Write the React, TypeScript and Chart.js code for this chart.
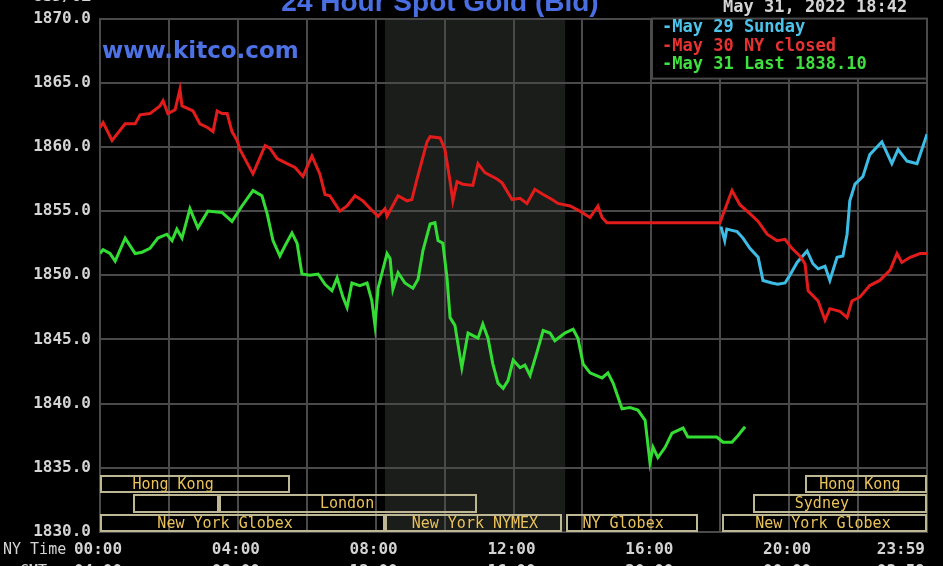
import { useEffect, useRef } from "react";
import { Chart, registerables } from "chart.js";

Chart.register(...registerables);

// ---- axis ----
const X_MIN = 0;
const X_MAX = 24;
const Y_MIN = 1830;
const Y_MAX = 1870;
const xLabelHours = [0, 4, 8, 12, 16, 20, 24];
const nyTimeLabels = ["00:00", "04:00", "08:00", "12:00", "16:00", "20:00", "23:59"];
const gmtTimeLabels = ["04:00", "08:00", "12:00", "16:00", "20:00", "00:00", "03:59"];

// ---- May 30 (NY closed) ----
const may30Hours = [0, 0.09, 0.35, 0.73, 1.02, 1.16, 1.45, 1.74, 1.83, 1.97, 2.18, 2.32, 2.38, 2.7, 2.9, 3.13, 3.28, 3.4, 3.54, 3.69, 3.83, 3.98, 4.06, 4.44, 4.79, 4.93, 5.14, 5.43, 5.66, 5.89, 6.15, 6.38, 6.53, 6.67, 6.96, 7.17, 7.4, 7.63, 7.84, 8.07, 8.27, 8.33, 8.65, 8.91, 9.05, 9.2, 9.34, 9.49, 9.58, 9.87, 10.01, 10.16, 10.24, 10.36, 10.53, 10.82, 10.97, 11.17, 11.52, 11.67, 11.96, 12.19, 12.39, 12.62, 12.86, 13.12, 13.29, 13.64, 13.93, 14.22, 14.45, 14.57, 14.71, 16, 17.99, 18.34, 18.57, 18.86, 19.1, 19.36, 19.65, 19.88, 20.08, 20.31, 20.46, 20.55, 20.84, 21.04, 21.18, 21.47, 21.68, 21.82, 22.05, 22.34, 22.63, 22.93, 23.13, 23.27, 23.51, 23.8, 24];
const may30Values = [1861.5, 1861.9, 1860.5, 1861.8, 1861.8, 1862.5, 1862.6, 1863.2, 1863.6, 1862.6, 1862.9, 1864.5, 1863.2, 1862.8, 1861.8, 1861.5, 1861.2, 1862.8, 1862.6, 1862.6, 1861.2, 1860.5, 1859.8, 1857.9, 1860.1, 1859.9, 1859.1, 1858.7, 1858.4, 1857.7, 1859.3, 1857.9, 1856.3, 1856.2, 1855.0, 1855.4, 1856.2, 1855.8, 1855.2, 1854.6, 1855.2, 1854.6, 1856.2, 1855.8, 1855.9, 1857.5, 1858.9, 1860.4, 1860.8, 1860.7, 1859.8, 1857.3, 1855.8, 1857.3, 1857.1, 1857.0, 1858.7, 1858.0, 1857.5, 1857.2, 1855.9, 1856.0, 1855.6, 1856.7, 1856.3, 1855.9, 1855.6, 1855.4, 1855.0, 1854.5, 1855.4, 1854.5, 1854.1, 1854.1, 1854.1, 1856.6, 1855.5, 1854.8, 1854.2, 1853.2, 1852.7, 1852.8, 1852.1, 1851.5, 1850.9, 1848.8, 1848.0, 1846.5, 1847.4, 1847.2, 1846.7, 1848.0, 1848.3, 1849.2, 1849.6, 1850.4, 1851.7, 1851.0, 1851.4, 1851.7, 1851.7];

// ---- May 31 (Last 1838.10) ----
const may31Hours = [0, 0.09, 0.29, 0.44, 0.73, 1.02, 1.22, 1.45, 1.68, 1.94, 2.09, 2.23, 2.38, 2.61, 2.84, 3.13, 3.54, 3.83, 4.12, 4.44, 4.7, 4.85, 5.02, 5.22, 5.37, 5.57, 5.72, 5.86, 6.09, 6.33, 6.53, 6.73, 6.88, 7.05, 7.17, 7.31, 7.54, 7.75, 7.89, 7.98, 8.07, 8.33, 8.42, 8.5, 8.65, 8.85, 9.08, 9.23, 9.37, 9.58, 9.72, 9.81, 9.95, 10.07, 10.16, 10.3, 10.5, 10.68, 10.97, 11.11, 11.26, 11.4, 11.55, 11.7, 11.84, 11.99, 12.19, 12.33, 12.48, 12.68, 12.86, 13.06, 13.2, 13.49, 13.73, 13.87, 14.02, 14.22, 14.57, 14.74, 14.89, 15.15, 15.38, 15.61, 15.82, 15.96, 16.05, 16.19, 16.4, 16.6, 16.92, 17.06, 17.9, 18.08, 18.34, 18.51, 18.72];
const may31Values = [1851.7, 1852.0, 1851.7, 1851.1, 1852.9, 1851.7, 1851.8, 1852.1, 1852.9, 1853.2, 1852.7, 1853.6, 1852.9, 1855.2, 1853.7, 1855.0, 1854.9, 1854.2, 1855.4, 1856.6, 1856.2, 1854.8, 1852.7, 1851.5, 1852.3, 1853.3, 1852.5, 1850.1, 1850.0, 1850.1, 1849.3, 1848.8, 1849.8, 1848.3, 1847.5, 1849.4, 1849.2, 1849.4, 1848.0, 1846.1, 1849.0, 1851.7, 1851.3, 1848.9, 1850.2, 1849.4, 1849.0, 1849.7, 1851.9, 1854.0, 1854.1, 1852.7, 1852.5, 1849.8, 1846.7, 1846.1, 1842.8, 1845.5, 1845.1, 1846.2, 1845.1, 1843.1, 1841.6, 1841.2, 1841.8, 1843.4, 1842.8, 1843.0, 1842.2, 1844.0, 1845.7, 1845.5, 1844.9, 1845.5, 1845.8, 1845.1, 1843.1, 1842.4, 1842.0, 1842.4, 1841.6, 1839.6, 1839.7, 1839.5, 1838.7, 1835.4, 1836.6, 1835.8, 1836.6, 1837.7, 1838.1, 1837.4, 1837.4, 1837.0, 1837.0, 1837.5, 1838.2];

// ---- May 29 (Sunday) ----
const may29Hours = [18.02, 18.13, 18.19, 18.34, 18.49, 18.66, 18.86, 19.1, 19.24, 19.5, 19.67, 19.88, 20.02, 20.23, 20.52, 20.69, 20.84, 21.04, 21.18, 21.39, 21.56, 21.68, 21.76, 21.91, 22.14, 22.34, 22.69, 22.98, 23.16, 23.42, 23.71, 23.85, 24];
const may29Values = [1853.8, 1852.7, 1853.6, 1853.5, 1853.4, 1852.9, 1852.1, 1851.4, 1849.6, 1849.4, 1849.3, 1849.4, 1850.0, 1851.0, 1851.9, 1850.9, 1850.5, 1850.7, 1849.6, 1851.4, 1851.5, 1853.2, 1855.8, 1857.1, 1857.7, 1859.4, 1860.4, 1858.7, 1859.8, 1858.9, 1858.7, 1859.8, 1861.0];

// ---- trading sessions (hours, NY time) ----
const sessionNames = ["Hong Kong", "", "London", "New York Globex", "New York NYMEX", "NY Globex", "New York Globex", "Sydney", "Hong Kong"];
const sessionStart = [0, 0.96, 3.45, 0, 8.27, 13.53, 18.05, 18.95, 20.46];
const sessionEnd = [5.5, 3.45, 10.95, 8.27, 13.42, 17.35, 24, 24, 24];
const sessionRow = [0, 1, 1, 2, 2, 2, 2, 1, 0];
const sessionLabelAt = [2.12, 0, 7.17, 3.63, 10.88, 15.18, 20.98, 20.95, 22.05];
const nymexShadeStart = 8.27;
const nymexShadeEnd = 13.5;

// ---- texts ----
const legendLabels = ["-May 29 Sunday", "-May 30 NY closed", "-May 31 Last 1838.10"];
const timestampText = "May 31, 2022 18:42";
const titleText = "24 Hour Spot Gold (Bid)";
const siteText = "www.kitco.com";
const unitText = "USD/OZ";

// ---- styles / positions (not data) ----
const C_RED = "#e21b1b";
const C_GREEN = "#33dd33";
const C_CYAN = "#3dbde6";
const GRID = "#4a4a4a";
const LABEL = "#d4d4d4";
const MONO = "'DejaVu Sans Mono', monospace";
const rowTopVal = [1834.45, 1832.98, 1831.42];
const rowBotVal = [1833.05, 1831.5, 1830.0];

const pts = (xs: number[], ys: number[]) => xs.map((x, i) => ({ x, y: ys[i] }));

const decor = {
  id: "decor",
  beforeDraw(chart: any) {
    const { ctx, chartArea, scales } = chart;
    const x = scales.x;
    ctx.save();
    ctx.fillStyle = "#1b1d1b";
    const l = x.getPixelForValue(nymexShadeStart);
    const r = x.getPixelForValue(nymexShadeEnd);
    ctx.fillRect(l, chartArea.top, r - l, chartArea.bottom - chartArea.top);
    ctx.restore();
  },
  afterDraw(chart: any) {
    const { ctx, chartArea, scales } = chart;
    const x = scales.x;
    const y = scales.y;
    ctx.save();

    // session boxes
    ctx.lineWidth = 2;
    for (let i = 0; i < sessionNames.length; i++) {
      const l = Math.round(x.getPixelForValue(sessionStart[i]));
      const r = Math.round(x.getPixelForValue(sessionEnd[i]));
      const t = Math.round(y.getPixelForValue(rowTopVal[sessionRow[i]]));
      const b = Math.round(y.getPixelForValue(rowBotVal[sessionRow[i]]));
      ctx.strokeStyle = "#bdb793";
      ctx.strokeRect(l + 1, t + 1, r - l - 2, b - t - 2);
    }
    ctx.font = `15px ${MONO}`;
    ctx.fillStyle = "#e9c25a";
    ctx.textAlign = "center";
    ctx.textBaseline = "middle";
    for (let i = 0; i < sessionNames.length; i++) {
      if (!sessionNames[i]) continue;
      const t = y.getPixelForValue(rowTopVal[sessionRow[i]]);
      const b = y.getPixelForValue(rowBotVal[sessionRow[i]]);
      ctx.fillText(sessionNames[i], x.getPixelForValue(sessionLabelAt[i]), (t + b) / 2 + 1);
    }

    // legend box
    const lx = 652;
    const ly = chartArea.top;
    const lw = chartArea.right - lx;
    const lh = 60;
    ctx.fillStyle = "#000";
    ctx.fillRect(lx, ly, lw, lh);
    ctx.strokeStyle = GRID;
    ctx.lineWidth = 2;
    ctx.strokeRect(lx, ly, lw, lh);
    const legendColors = ["#4ec3ea", "#e63232", "#3fe03f"];
    const legendY = [28, 46.5, 65];
    ctx.font = `bold 17px ${MONO}`;
    ctx.textAlign = "left";
    ctx.textBaseline = "middle";
    for (let i = 0; i < legendLabels.length; i++) {
      ctx.fillStyle = legendColors[i];
      ctx.fillText(legendLabels[i], 662, legendY[i]);
    }

    // timestamp
    ctx.fillStyle = LABEL;
    ctx.fillText(timestampText, 723, 8);

    // title (clipped at top)
    ctx.font = "bold 28px 'Liberation Sans', Arial, sans-serif";
    ctx.fillStyle = "#4a6fe3";
    ctx.textAlign = "center";
    ctx.textBaseline = "alphabetic";
    ctx.fillText(titleText, 440, 11);

    // site
    ctx.font = "bold 23px 'DejaVu Sans', sans-serif";
    ctx.fillStyle = "#4d72e6";
    ctx.textAlign = "left";
    ctx.fillText(siteText, 102, 58);

    // unit (clipped)
    ctx.font = `bold 16px ${MONO}`;
    ctx.fillStyle = LABEL;
    ctx.textAlign = "right";
    ctx.textBaseline = "middle";
    ctx.fillText(unitText, 91, -3);

    // x labels
    ctx.font = `bold 16px ${MONO}`;
    for (let i = 0; i < xLabelHours.length; i++) {
      const px = x.getPixelForValue(xLabelHours[i]);
      const last = i === xLabelHours.length - 1;
      ctx.textAlign = last ? "right" : "center";
      const tx = px - 2;
      ctx.fillText(nyTimeLabels[i], tx, 550);
      ctx.fillText(gmtTimeLabels[i], tx, 572);
    }
    ctx.font = `15px ${MONO}`;
    ctx.textAlign = "left";
    ctx.fillText("NY Time", 3, 550);
    ctx.fillText("GMT", 20, 572);

    ctx.restore();
  },
};

export default function App() {
  const ref = useRef<HTMLCanvasElement | null>(null);
  useEffect(() => {
    document.body.style.margin = "0";
    document.body.style.background = "#000";
    const canvas = ref.current;
    if (!canvas) return;
    const chart = new Chart(canvas, {
      type: "line",
      data: {
        datasets: [
          { label: "May 30 NY closed", data: pts(may30Hours, may30Values), borderColor: C_RED, borderWidth: 3, pointRadius: 0, tension: 0 },
          { label: "May 31 Last 1838.10", data: pts(may31Hours, may31Values), borderColor: C_GREEN, borderWidth: 3, pointRadius: 0, tension: 0 },
          { label: "May 29 Sunday", data: pts(may29Hours, may29Values), borderColor: C_CYAN, borderWidth: 3, pointRadius: 0, tension: 0 },
        ],
      },
      options: {
        responsive: false,
        animation: false,
        devicePixelRatio: 1,
        layout: { padding: { left: 0, right: 16, top: 17, bottom: 0 } },
        plugins: { legend: { display: false }, tooltip: { enabled: false }, title: { display: false } },
        scales: {
          x: {
            type: "linear",
            min: X_MIN,
            max: X_MAX,
            ticks: { stepSize: 2, display: false },
            grid: { color: GRID, lineWidth: 2, drawTicks: false },
            border: { color: GRID, width: 2 },
            afterFit: (s: any) => { s.height = 34; },
          },
          y: {
            min: Y_MIN,
            max: Y_MAX,
            ticks: {
              stepSize: 5,
              callback: (v: any) => Number(v).toFixed(1),
              color: LABEL,
              font: { family: "'DejaVu Sans Mono', monospace", size: 16, weight: "bold" },
              padding: 9,
            },
            grid: { color: GRID, lineWidth: 2, drawTicks: false },
            border: { color: GRID, width: 2 },
            afterFit: (s: any) => { s.width = 100; },
          },
        },
      } as any,
      plugins: [decor],
    });
    return () => chart.destroy();
  }, []);
  return (
    <div style={{ position: "fixed", left: 0, top: 0, width: 943, height: 566, background: "#000" }}>
      <canvas ref={ref} width={943} height={566} style={{ display: "block", width: 943, height: 566 }} />
    </div>
  );
}
